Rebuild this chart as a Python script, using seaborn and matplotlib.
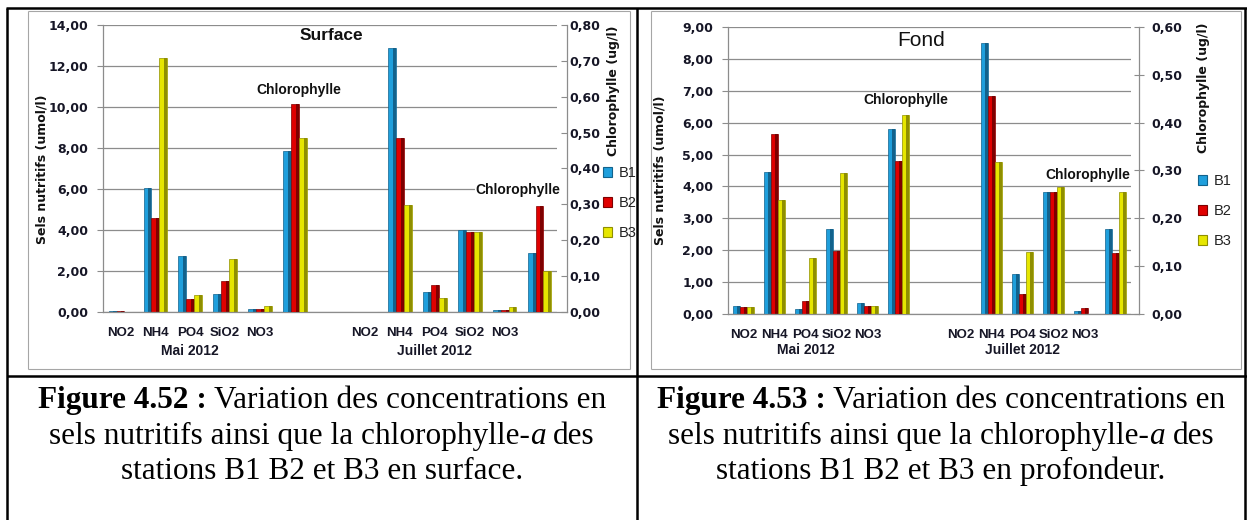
import numpy as np
import pandas as pd
import matplotlib
matplotlib.use("Agg")
import matplotlib.pyplot as plt
import matplotlib.transforms as mtransforms
from matplotlib.lines import Line2D
from matplotlib.patches import Rectangle, Patch
from matplotlib.ticker import FuncFormatter, MultipleLocator
import seaborn as sns

sns.set_style("white")
plt.rcParams["font.family"] = ["DejaVu Sans"]

# ---------------------------------------------------------------- data
nutrients = ["NO2", "NH4", "PO4", "SiO2", "NO3"]
stations = ["B1", "B2", "B3"]
campaigns = ["Mai 2012", "Juillet 2012"]

# Surface (umol/l), one list per station, order = nutrients
surf_mai_b1 = [0.07, 6.05, 2.73, 0.86, 0.13]
surf_mai_b2 = [0.07, 4.60, 0.62, 1.51, 0.13]
surf_mai_b3 = [0.00, 12.40, 0.83, 2.57, 0.31]
surf_juil_b1 = [0.00, 12.89, 0.99, 4.00, 0.10]
surf_juil_b2 = [0.00, 8.50, 1.30, 3.89, 0.10]
surf_juil_b3 = [0.00, 5.22, 0.67, 3.89, 0.23]
# Surface chlorophylle (ug/l), B1, B2, B3
surf_chl_mai = [0.45, 0.58, 0.485]
surf_chl_juil = [0.164, 0.296, 0.114]

# Fond (umol/l)
fond_mai_b1 = [0.25, 4.44, 0.15, 2.66, 0.34]
fond_mai_b2 = [0.21, 5.63, 0.42, 1.97, 0.26]
fond_mai_b3 = [0.21, 3.57, 1.77, 4.41, 0.26]
fond_juil_b1 = [0.00, 8.49, 1.25, 3.83, 0.09]
fond_juil_b2 = [0.00, 6.84, 0.63, 3.83, 0.18]
fond_juil_b3 = [0.00, 4.76, 1.95, 3.97, 0.00]
# Fond chlorophylle (ug/l)
fond_chl_mai = [0.386, 0.320, 0.416]
fond_chl_juil = [0.178, 0.128, 0.256]

# ---------------------------------------------------------------- styling
W, H = 1247, 520
base_colors = {"B1": "#1f9fdc", "B2": "#e00000", "B3": "#e6e600"}
dark_colors = {"B1": "#12628c", "B2": "#7e0000", "B3": "#8f8f00"}
GRID = "#8c8c8c"
TXT = "#161626"


def fx(x):
    return x / W


def fy(y):
    return 1 - y / H


def comma(v, _pos=None):
    return f"{v:.2f}".replace(".", ",")


def build_frames(mai, juil, chl_mai, chl_juil):
    keys = ([f"M-{n}" for n in nutrients] + ["M-Chl", "gap"]
            + [f"J-{n}" for n in nutrients] + ["J-Chl"])
    nut_rows, chl_rows = [], []
    for i, st in enumerate(stations):
        for n, v in zip(nutrients, mai[i]):
            nut_rows.append((f"M-{n}", st, v))
        for n, v in zip(nutrients, juil[i]):
            nut_rows.append((f"J-{n}", st, v))
        chl_rows.append(("M-Chl", st, chl_mai[i]))
        chl_rows.append(("J-Chl", st, chl_juil[i]))
    cols = ["key", "station", "value"]
    return keys, pd.DataFrame(nut_rows, columns=cols), pd.DataFrame(chl_rows, columns=cols)


def shade_bars(ax):
    # darker right-hand face to give the columns a little depth
    for bar in list(ax.patches):
        h = bar.get_height()
        if not np.isfinite(h) or h <= 0:
            continue
        fc = bar.get_facecolor()
        st = min(base_colors, key=lambda k: np.sum(np.abs(np.array(matplotlib.colors.to_rgba(base_colors[k])) - fc)))
        x, w = bar.get_x(), bar.get_width()
        bar.set_edgecolor(dark_colors[st])
        bar.set_linewidth(0.5)
        ax.add_patch(Rectangle((x + 0.62 * w, 0), 0.38 * w, h, facecolor=dark_colors[st],
                               edgecolor="none", zorder=bar.get_zorder() + 0.1))


def draw_panel(rect, ymax, ystep, y2max, frames, offset_pt, cat_labels_y, sec_ticks):
    keys, nut_df, chl_df = frames
    ax = fig.add_axes(rect)
    sns.barplot(data=nut_df, x="key", y="value", hue="station", order=keys,
                hue_order=stations, palette=base_colors, width=0.68, saturation=1,
                errorbar=None, legend=False, ax=ax)
    ax2 = ax.twinx()
    sns.barplot(data=chl_df, x="key", y="value", hue="station", order=keys,
                hue_order=stations, palette=base_colors, width=0.68, saturation=1,
                errorbar=None, legend=False, ax=ax2)
    shade_bars(ax)
    shade_bars(ax2)

    n = len(keys)
    ax.set_xlim(-0.5, n - 0.5)
    ax.set_ylim(0, ymax)
    ax2.set_ylim(0, y2max)
    ax.set_axisbelow(True)

    # primary axis
    ax.yaxis.set_major_locator(MultipleLocator(ystep))
    ax.yaxis.set_major_formatter(FuncFormatter(comma))
    ax.yaxis.grid(True, color=GRID, lw=0.9)
    ax.xaxis.grid(False)
    for s in ["top", "right"]:
        ax.spines[s].set_visible(False)
    for s in ["left", "bottom"]:
        ax.spines[s].set_color(GRID)
        ax.spines[s].set_linewidth(0.9)
    ax.tick_params(axis="y", direction="out", length=4.5, width=0.8, color=GRID,
                   pad=6, labelsize=9, labelcolor=TXT)
    for t in ax.get_yticklabels():
        t.set_fontweight("bold")
    ax.set_ylabel("")
    ax.set_xlabel("")

    # category axis: labels at centres, ticks at boundaries
    labels = nutrients + ["", ""] + nutrients + [""]
    ax.set_xticks(range(n))
    ax.set_xticklabels(labels, fontfamily="Liberation Sans", fontweight="bold",
                       fontsize=9.5, color=TXT)
    ax.tick_params(axis="x", which="major", length=0, pad=11)
    ax.set_xticks(np.arange(-0.5, n - 1, 1), minor=True)
    ax.tick_params(axis="x", which="minor", direction="out", length=4.5, width=0.8, color=GRID)
    ax.spines["bottom"].set_bounds(-0.5, n - 0.5 + offset_pt / 0.72 / (rect[2] * W / n))

    # secondary axis
    for s in ["top", "left", "bottom"]:
        ax2.spines[s].set_visible(False)
    ax2.spines["right"].set_position(("outward", offset_pt))
    ax2.spines["right"].set_color(GRID)
    ax2.spines["right"].set_linewidth(0.9)
    ax2.yaxis.set_major_locator(MultipleLocator(0.1))
    ax2.yaxis.set_major_formatter(FuncFormatter(comma))
    ax2.tick_params(axis="y", width=0.8, color=GRID, labelsize=9, labelcolor=TXT, **sec_ticks)
    for t in ax2.get_yticklabels():
        t.set_fontweight("bold")
    ax2.set_ylabel("")
    ax2.grid(False)

    tr = mtransforms.blended_transform_factory(ax.transData, fig.transFigure)
    for cx, lab in zip([2, 9], campaigns):
        fig.text(cx, fy(cat_labels_y), lab, transform=tr, ha="center", va="center",
                 fontfamily="Liberation Sans", fontweight="bold", fontsize=10, color=TXT)
    return ax, ax2, tr


fig = plt.figure(figsize=(W / 100, H / 100), dpi=100)

# ---------------------------------------------------------------- left panel (surface)
surf = build_frames([surf_mai_b1, surf_mai_b2, surf_mai_b3],
                    [surf_juil_b1, surf_juil_b2, surf_juil_b3],
                    surf_chl_mai, surf_chl_juil)
axL, axL2, trL = draw_panel([fx(103), fy(312), (557 - 103) / W, (312 - 25) / H],
                            14, 2, 0.8, surf, 7.2, 351,
                            dict(direction="in", length=4, pad=2))
chl_font = dict(fontfamily="Liberation Sans", fontweight="bold", fontsize=10, color="#111111",
                ha="center", va="center")
fig.text(5.1, fy(90), "Chlorophylle", transform=trL, **chl_font)
fig.text(11.39, fy(190), "Chlorophylle", transform=trL,
         bbox=dict(facecolor="white", edgecolor="none", pad=0.5), **chl_font)
fig.text(fx(331), fy(35), "Surface", ha="center", va="center", fontfamily="Liberation Sans",
         fontweight="bold", fontsize=12.5, color="#111111")
fig.text(fx(42), fy(169), "Sels nutritifs (umol/l)", rotation=90, ha="center", va="center",
         fontweight="bold", fontsize=9, color="#111111")
fig.text(fx(613), fy(91), "Chlorophylle (ug/l)", rotation=90, ha="center", va="center",
         fontweight="bold", fontsize=9, color="#111111")

# ---------------------------------------------------------------- right panel (fond)
fond = build_frames([fond_mai_b1, fond_mai_b2, fond_mai_b3],
                    [fond_juil_b1, fond_juil_b2, fond_juil_b3],
                    fond_chl_mai, fond_chl_juil)
axR, axR2, trR = draw_panel([fx(728), fy(314), (1131 - 728) / W, (314 - 27) / H],
                            9, 1, 0.6, fond, 5.8, 350,
                            dict(direction="inout", length=7, pad=5.5))
fig.text(5.24, fy(100), "Chlorophylle", transform=trR, **chl_font)
fig.text(11.11, fy(175), "Chlorophylle", transform=trR,
         bbox=dict(facecolor="white", edgecolor="none", pad=0.5), **chl_font)
fig.text(fx(921), fy(40), "Fond", ha="center", va="center", fontfamily="Liberation Sans",
         fontsize=15, color="#111111")
fig.text(fx(660), fy(170), "Sels nutritifs (umol/l)", rotation=90, ha="center", va="center",
         fontweight="bold", fontsize=9, color="#111111")
fig.text(fx(1203), fy(88), "Chlorophylle (ug/l)", rotation=90, ha="center", va="center",
         fontweight="bold", fontsize=9, color="#111111")

# ---------------------------------------------------------------- legends
handles = [Patch(facecolor=base_colors[s], edgecolor=dark_colors[s], lw=0.8) for s in stations]
leg_kw = dict(frameon=False, handlelength=0.65, handleheight=0.65, handletextpad=0.45,
              labelspacing=1.1, prop={"family": "Liberation Sans", "size": 10.5},
              labelcolor="#222222", borderpad=0, borderaxespad=0)
fig.legend(handles, stations, loc="upper left", bbox_to_anchor=(fx(603), fy(166)), **leg_kw)
fig.legend(handles, stations, loc="upper left", bbox_to_anchor=(fx(1198), fy(174)), **leg_kw)

# ---------------------------------------------------------------- table frame
def fline(x0, y0, x1, y1, color="black", lw=1.8):
    fig.add_artist(Line2D([fx(x0), fx(x1)], [fy(y0), fy(y1)], color=color, lw=lw,
                          solid_capstyle="butt"))


for (x0, y0, x1, y1) in [(28, 11, 630, 11), (28, 11, 28, 369), (28, 369, 630, 369),
                         (630, 11, 630, 369), (651, 11, 1241, 11), (651, 11, 651, 369),
                         (651, 369, 1241, 369), (1241, 11, 1241, 369)]:
    fline(x0, y0, x1, y1, color="#a6a6a6", lw=0.8)
fline(6, 8, W, 8)
fline(7, 8, 7, H)
fline(637, 8, 637, H)
fline(1245, 8, 1245, H)
fline(7, 376, W, 376)

# ---------------------------------------------------------------- captions
renderer = fig.canvas.get_renderer()
SERIF = "Liberation Serif"
CAP_SIZE = 22.5


def text_width(s, **kw):
    t = fig.text(0, 0, s, fontfamily=SERIF, fontsize=CAP_SIZE, **kw)
    w = t.get_window_extent(renderer).width
    t.remove()
    return w


space_w = text_width("x x") - text_width("xx")


def rich_line(segments, cx, cy):
    widths = []
    for s, kw in segments:
        widths.append(space_w if s == " " else text_width(s, **kw))
    x = cx - sum(widths) / 2
    for (s, kw), w in zip(segments, widths):
        if s != " ":
            fig.text(fx(x), fy(cy), s, fontfamily=SERIF, fontsize=CAP_SIZE, va="center_baseline",
                     ha="left", color="black", **kw)
        x += w


REG = {}
BOLD = {"fontweight": "bold"}
ITAL = {"fontstyle": "italic"}
for cx, fig_no, where in [(322, "4.52", "surface"), (941, "4.53", "profondeur")]:
    rich_line([(f"Figure {fig_no} :", BOLD), (" ", REG),
               ("Variation des concentrations en", REG)], cx, 397)
    rich_line([("sels nutritifs ainsi que la chlorophylle-", REG), ("a", ITAL),
               (" ", REG), ("des", REG)], cx, 433)
    rich_line([(f"stations B1 B2 et B3 en {where}.", REG)], cx, 468)

fig.savefig("out.png", dpi=100)
